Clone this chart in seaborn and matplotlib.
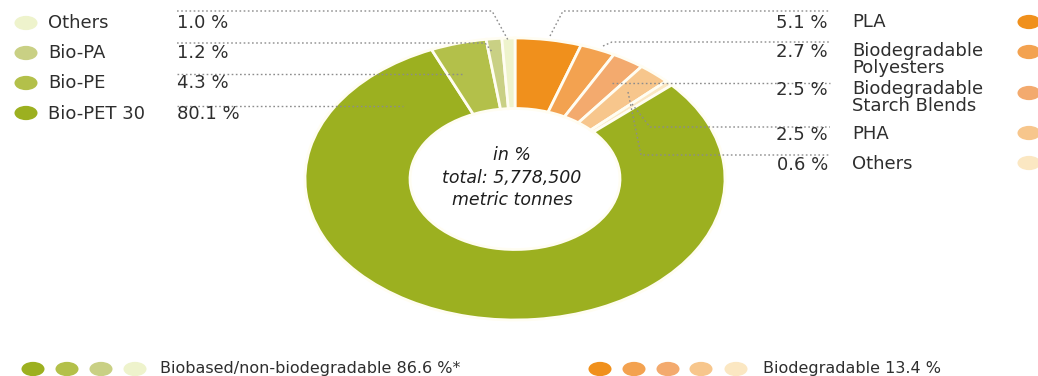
import matplotlib
matplotlib.use("Agg")
import matplotlib.pyplot as plt
from matplotlib.path import Path
from matplotlib.transforms import Affine2D
import pandas as pd
import seaborn as sns

# Biodegradable plastics, clockwise from 12 o'clock
bio_labels = ["PLA", "Biodegradable\nPolyesters", "Biodegradable\nStarch Blends", "PHA", "Others"]
bio_shares = [5.1, 2.7, 2.5, 2.5, 0.6]
bio_colors = ["#f0901c", "#f3a250", "#f3aa6e", "#f7c68c", "#fbe7c2"]

# Biobased / non-biodegradable plastics, listed top to bottom
nonbio_labels = ["Others", "Bio-PA", "Bio-PE", "Bio-PET 30"]
nonbio_shares = [1.0, 1.2, 4.3, 80.1]
nonbio_colors = ["#eef3cc", "#c9d084", "#b3c04a", "#9cb020"]

center_lines = ["in %", "total: 5,778,500", "metric tonnes"]
group_labels = ["Biobased/non-biodegradable 86.6 %*", "Biodegradable 13.4 %"]

sns.set_theme(style="white")
plt.rcParams["font.family"] = ["DejaVu Sans"]

W, H = 1038, 376
TXT = "#2e2e2e"
LEAD = "#8c8c8c"
fig = plt.figure(figsize=(W / 100, H / 100), dpi=100)
fig.patch.set_facecolor("white")

# donut (drawn in a stretched axes so it appears as an ellipse)
cx, cy, rx, ry = 515, 179, 210, 141
pie_ax = fig.add_axes([(cx - rx) / W, 1 - (cy + ry) / H, 2 * rx / W, 2 * ry / H])
values = bio_shares + nonbio_shares[::-1]
colors = bio_colors + nonbio_colors[::-1]
pie_ax.pie(values, colors=colors, startangle=90, counterclock=False, radius=1,
           wedgeprops=dict(width=0.5, edgecolor="#fffdf2", linewidth=2))
pie_ax.set_aspect("auto")
pie_ax.set_xlim(-1, 1)
pie_ax.set_ylim(-1, 1)
pie_ax.axis("off")

# overlay in pixel coordinates for labels, leaders and legend dots
ov = fig.add_axes([0, 0, 1, 1])
ov.set_xlim(0, W)
ov.set_ylim(H, 0)
ov.axis("off")
ov.patch.set_alpha(0)

left_rows = [23, 53, 83, 114]
right_rows = [23, 52, 90, 135, 165]

# leader lines
left_leaders = [[(177, 11), (492, 11), (508, 40)],
                [(177, 43), (485, 43), (493, 53)],
                [(177, 74), (462, 74)],
                [(177, 106), (403, 106)]]
right_leaders = [[(550, 36), (563, 11), (830, 11)],
                 [(603, 46), (612, 42), (830, 42)],
                 [(612, 83), (830, 83)],
                 [(632, 104), (650, 127), (830, 127)],
                 [(628, 92), (641, 155), (830, 155)]]
for pts in left_leaders + right_leaders:
    xs, ys = zip(*pts)
    ov.plot(xs, ys, color=LEAD, lw=1, linestyle=(0, (1.2, 1.8)))

# left side labels
for lab, val, y in zip(nonbio_labels, nonbio_shares, left_rows):
    ov.text(48, y, lab, fontsize=13, color=TXT, va="center", ha="left")
    ov.text(177, y, f"{val:.1f} %", fontsize=13, color=TXT, va="center", ha="left")

# right side labels
for lab, val, y in zip(bio_labels, bio_shares, right_rows):
    ov.text(828, y, f"{val:.1f} %", fontsize=13, color=TXT, va="center", ha="right")
    ov.text(852, y - 10, lab, fontsize=13, color=TXT, va="top", ha="left",
            linespacing=0.92)

# centre caption
for line, y in zip(center_lines, [155, 178, 200]):
    ov.text(512, y, line, fontsize=12.5, style="italic", color="#1e1e1e",
            ha="center", va="center")

# bottom group captions
ov.text(160, 368, group_labels[0], fontsize=11.5, color=TXT, va="center", ha="left")
ov.text(763, 368, group_labels[1], fontsize=11.5, color=TXT, va="center", ha="left")

# legend dots
ellipse = Path.unit_circle().transformed(Affine2D().scale(1, 0.62))
dots = pd.DataFrame({
    "x": [26] * 4 + [1029] * 5 + [135, 101, 67, 33] + [600, 634, 668, 701, 736],
    "y": left_rows[:3] + [113] + [22, 52, 93, 133, 163] + [369] * 4 + [369] * 5,
    "c": nonbio_colors + bio_colors + nonbio_colors + bio_colors,
})
sns.scatterplot(data=dots, x="x", y="y", hue="c",
                palette={c: c for c in nonbio_colors + bio_colors},
                marker=ellipse, s=275, linewidth=0, legend=False, ax=ov)
ov.set_xlim(0, W)
ov.set_ylim(H, 0)
ov.axis("off")

fig.savefig("out.png", dpi=100, facecolor="white")
